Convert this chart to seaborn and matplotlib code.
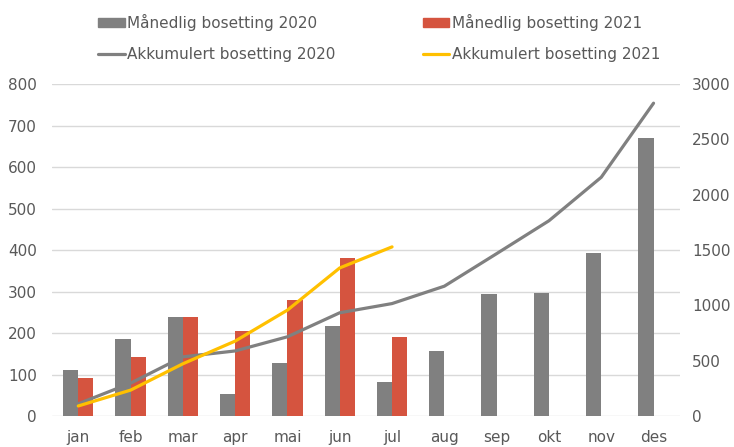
import matplotlib
matplotlib.use('Agg')
import matplotlib.pyplot as plt
import numpy as np
import pandas as pd
import seaborn as sns
from matplotlib.patches import Patch
from matplotlib.lines import Line2D

# data
months = ['jan', 'feb', 'mar', 'apr', 'mai', 'jun', 'jul', 'aug', 'sep', 'okt', 'nov', 'des']
monthly_2020 = [112, 186, 238, 53, 128, 217, 83, 157, 294, 297, 393, 669]
monthly_2021 = [92, 143, 238, 205, 280, 381, 190, np.nan, np.nan, np.nan, np.nan, np.nan]
cumulative_2020 = [112, 298, 536, 589, 717, 934, 1017, 1174, 1468, 1765, 2158, 2827]
cumulative_2021 = [92, 235, 473, 678, 958, 1339, 1529]

lbl_bar20 = 'Månedlig bosetting 2020'
lbl_bar21 = 'Månedlig bosetting 2021'
lbl_line20 = 'Akkumulert bosetting 2020'
lbl_line21 = 'Akkumulert bosetting 2021'

c_gray = '#808080'
c_red = '#D5543F'
c_yellow = '#FFC000'
c_text = '#595959'
c_grid = '#D9D9D9'

bars = pd.DataFrame({
    'month': months * 2,
    'value': monthly_2020 + monthly_2021,
    'serie': [lbl_bar20] * len(months) + [lbl_bar21] * len(months),
})

sns.set_style('white')
plt.rcParams['font.family'] = ['DejaVu Sans']

fig = plt.figure(figsize=(7.34, 4.47), dpi=100)
ax = fig.add_axes([0.071, 0.069, 0.855, 0.743])

sns.barplot(data=bars, x='month', y='value', hue='serie',
            palette=[c_gray, c_red], width=0.58, saturation=1,
            linewidth=0, ax=ax, legend=False)
ax.set_ylim(0, 800)
ax.set_yticks(range(0, 801, 100))
ax.set_xlim(-0.5, len(months) - 0.5)
ax.yaxis.grid(True, color=c_grid, linewidth=1)
ax.set_axisbelow(True)
ax.set_xlabel('')
ax.set_ylabel('')

ax2 = ax.twinx()
x20 = np.arange(len(cumulative_2020))
x21 = np.arange(len(cumulative_2021))
sns.lineplot(x=x20, y=cumulative_2020, color=c_gray, linewidth=2.3, ax=ax2)
sns.lineplot(x=x21, y=cumulative_2021, color=c_yellow, linewidth=2.3, ax=ax2)
ax2.set_ylim(0, 3000)
ax2.set_yticks(range(0, 3001, 500))
ax2.set_xlim(-0.5, len(months) - 0.5)

for a in (ax, ax2):
    for s in a.spines.values():
        s.set_visible(False)
    a.tick_params(length=0, labelsize=11, labelcolor=c_text)
ax.tick_params(axis='y', pad=11)
ax.tick_params(axis='x', pad=10)
ax2.tick_params(axis='y', pad=9)

handles = [
    Patch(color=c_gray),
    Line2D([], [], color=c_gray, linewidth=2.3),
    Patch(color=c_red),
    Line2D([], [], color=c_yellow, linewidth=2.3),
]
labels = [lbl_bar20, lbl_line20, lbl_bar21, lbl_line21]
fig.legend(handles, labels, ncol=2, loc='upper left', bbox_to_anchor=(0.115, 1.0),
           frameon=False, fontsize=11, labelcolor=c_text, handlelength=1.75,
           handleheight=0.55, handletextpad=0.15, columnspacing=5.7, labelspacing=1.05)

fig.savefig('out.png', dpi=100)
